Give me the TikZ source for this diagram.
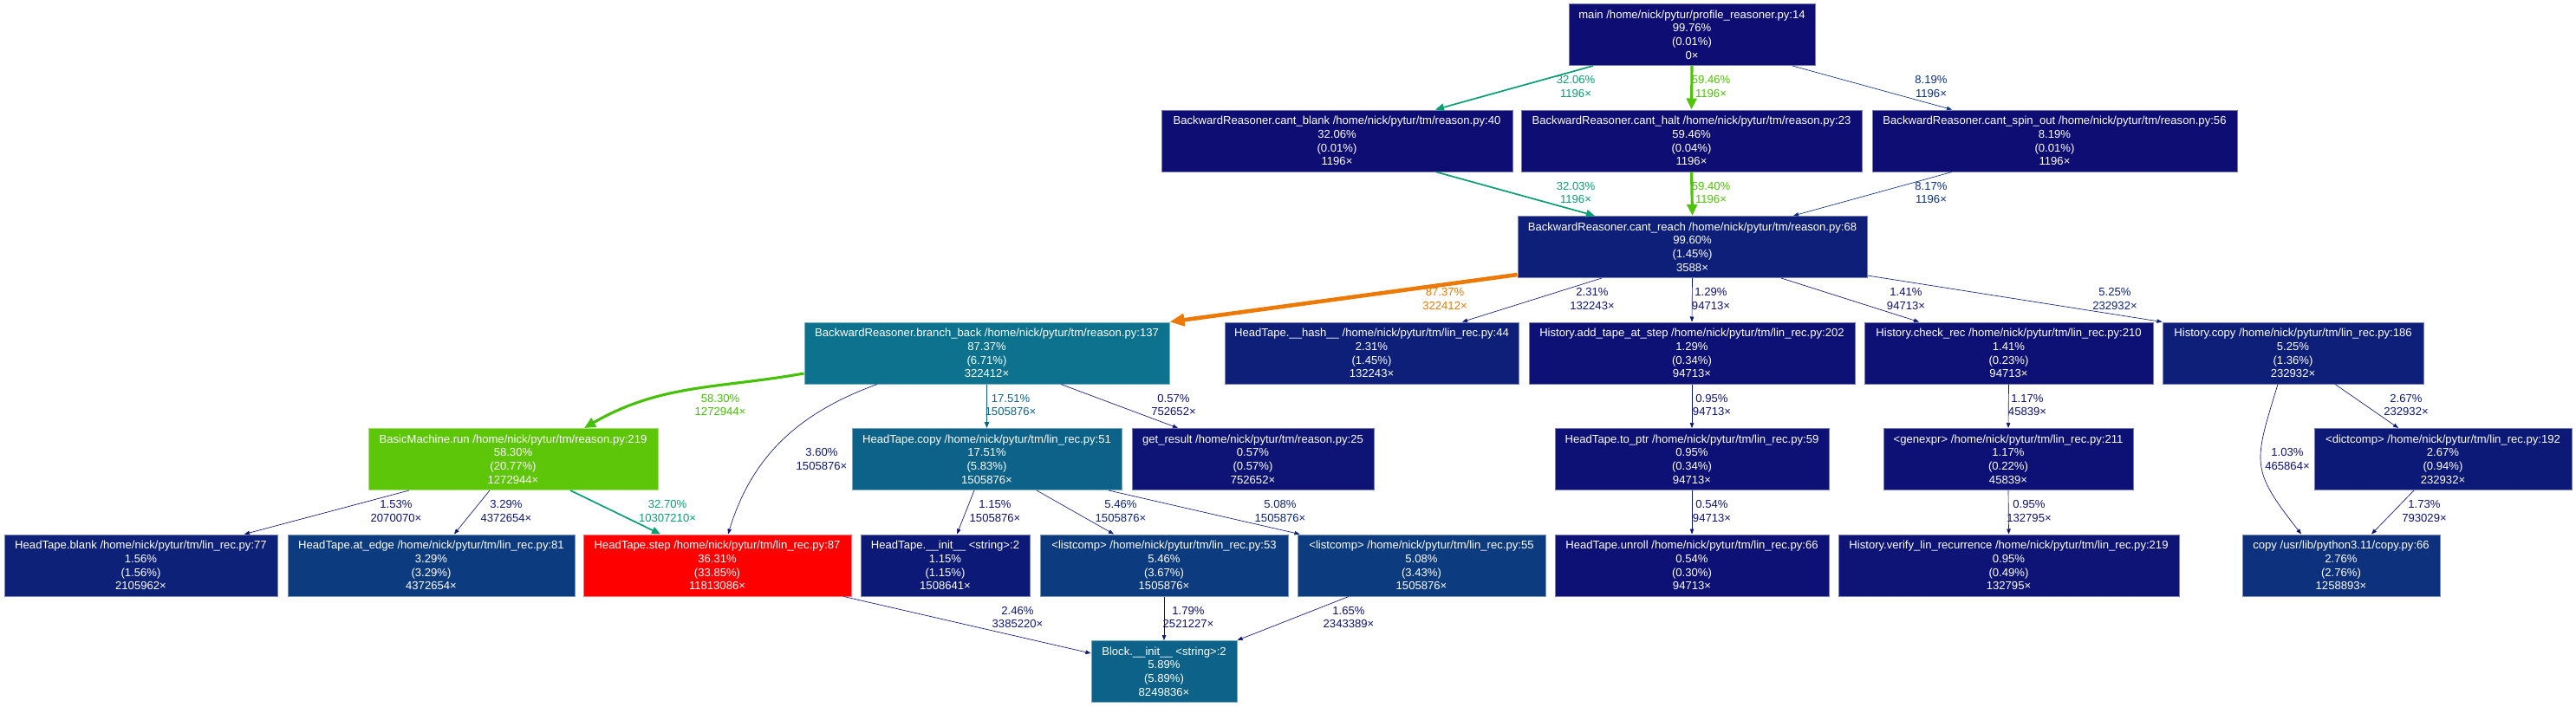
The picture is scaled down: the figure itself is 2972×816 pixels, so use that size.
\documentclass[tikz,border=0pt]{standalone}
\usepackage{fontspec}
\setmainfont{Liberation Sans}
\usetikzlibrary{arrows.meta}
% node fills, by self time
\definecolor{selfnone}{RGB}{13,13,115}
\definecolor{selflow}{RGB}{13,16,116}
\definecolor{selfsmall}{RGB}{13,20,117}
\definecolor{selfmid}{RGB}{13,25,118}
\definecolor{selfreach}{RGB}{13,31,120}
\definecolor{selfblank}{RGB}{13,33,121}
\definecolor{selfcopy}{RGB}{13,49,125}
\definecolor{selfblue}{RGB}{13,59,128}
\definecolor{selfteal}{RGB}{12,98,137}
\definecolor{selfbranch}{RGB}{12,114,141}
\definecolor{selfgreen}{RGB}{94,198,8}
\definecolor{selfred}{RGB}{255,0,0}
% call colours, by total time
\definecolor{callnavy}{RGB}{13,18,117}
\definecolor{callnavyb}{RGB}{13,25,119}
\definecolor{callblue}{RGB}{13,36,121}
\definecolor{callblueb}{RGB}{13,50,125}
\definecolor{callteal}{RGB}{12,100,137}
\definecolor{callsea}{RGB}{11,157,115}
\definecolor{calllime}{RGB}{79,195,8}
\definecolor{calllimeb}{RGB}{70,193,8}
\definecolor{callorange}{RGB}{236,121,3}
\newcommand{\graphfont}{\fontsize{13.1pt}{15.7pt}\selectfont}

\begin{document}
\begin{tikzpicture}[x=1pt,y=-1pt,
  fn/.style={rectangle,fill=#1,draw=#1!55!white,line width=1pt,text=white,font=\graphfont,
    align=center,minimum height=71pt,inner xsep=2pt,inner ysep=0pt},
  lbl/.style={font=\graphfont,align=center,inner sep=0pt},
  call/.style={-{Triangle[length=6pt,width=4.5pt]},line width=0.66pt},
  call17/.style={-{Triangle[length=7pt,width=5.5pt]},line width=0.92pt},
  call32/.style={-{Triangle[length=10pt,width=8.5pt]},line width=1.7pt},
  call59/.style={-{Triangle[length=13pt,width=11.5pt]},line width=3.1pt},
  call87/.style={-{Triangle[length=17pt,width=14pt]},line width=4.6pt}
]
  \fill[white] (0,0) rectangle (2972,816);
  \useasboundingbox (0,0) rectangle (2972,816);

  % functions
  \node[fn=selfnone,minimum width=284pt] (main) at (1952,40)
    {main /home/nick/pytur/profile\_reasoner.py:14\\99.76\%\\(0.01\%)\\0×};
  \node[fn=selfnone,minimum width=405pt] (cantblank) at (1542.5,162.5)
    {BackwardReasoner.cant\_blank /home/nick/pytur/tm/reason.py:40\\32.06\%\\(0.01\%)\\1196×};
  \node[fn=selfnone,minimum width=393pt] (canthalt) at (1951.5,162.5)
    {BackwardReasoner.cant\_halt /home/nick/pytur/tm/reason.py:23\\59.46\%\\(0.04\%)\\1196×};
  \node[fn=selfnone,minimum width=421pt] (cantspin) at (2370.5,162.5)
    {BackwardReasoner.cant\_spin\_out /home/nick/pytur/tm/reason.py:56\\8.19\%\\(0.01\%)\\1196×};
  \node[fn=selfreach,minimum width=403pt] (cantreach) at (1952.5,285)
    {BackwardReasoner.cant\_reach /home/nick/pytur/tm/reason.py:68\\99.60\%\\(1.45\%)\\3588×};

  \node[fn=selfbranch,minimum width=421pt] (branchback) at (1138.5,407.5)
    {BackwardReasoner.branch\_back /home/nick/pytur/tm/reason.py:137\\87.37\%\\(6.71\%)\\322412×};
  \node[fn=selfreach,minimum width=339pt] (hthash) at (1582.5,407.5)
    {HeadTape.\_\_hash\_\_ /home/nick/pytur/tm/lin\_rec.py:44\\2.31\%\\(1.45\%)\\132243×};
  \node[fn=selflow,minimum width=376pt] (addtape) at (1952,407.5)
    {History.add\_tape\_at\_step /home/nick/pytur/tm/lin\_rec.py:202\\1.29\%\\(0.34\%)\\94713×};
  \node[fn=selflow,minimum width=333pt] (checkrec) at (2317.5,407.5)
    {History.check\_rec /home/nick/pytur/tm/lin\_rec.py:210\\1.41\%\\(0.23\%)\\94713×};
  \node[fn=selfreach,minimum width=301pt] (histcopy) at (2645.5,407.5)
    {History.copy /home/nick/pytur/tm/lin\_rec.py:186\\5.25\%\\(1.36\%)\\232932×};

  \node[fn=selfgreen,minimum width=334pt] (bmrun) at (592,530)
    {BasicMachine.run /home/nick/pytur/tm/reason.py:219\\58.30\%\\(20.77\%)\\1272944×};
  \node[fn=selfteal,minimum width=311pt] (htcopy) at (1138.5,530)
    {HeadTape.copy /home/nick/pytur/tm/lin\_rec.py:51\\17.51\%\\(5.83\%)\\1505876×};
  \node[fn=selfsmall,minimum width=279pt] (getresult) at (1445.5,530)
    {get\_result /home/nick/pytur/tm/reason.py:25\\0.57\%\\(0.57\%)\\752652×};
  \node[fn=selflow,minimum width=316pt] (toptr) at (1952,530)
    {HeadTape.to\_ptr /home/nick/pytur/tm/lin\_rec.py:59\\0.95\%\\(0.34\%)\\94713×};
  \node[fn=selflow,minimum width=288pt] (genexpr) at (2317,530)
    {<genexpr> /home/nick/pytur/tm/lin\_rec.py:211\\1.17\%\\(0.22\%)\\45839×};
  \node[fn=selfmid,minimum width=297pt] (dictcomp) at (2818.5,530)
    {<dictcomp> /home/nick/pytur/tm/lin\_rec.py:192\\2.67\%\\(0.94\%)\\232932×};

  \node[fn=selfblank,minimum width=315pt] (htblank) at (162.5,652.5)
    {HeadTape.blank /home/nick/pytur/tm/lin\_rec.py:77\\1.56\%\\(1.56\%)\\2105962×};
  \node[fn=selfblue,minimum width=331pt] (atedge) at (497.5,652.5)
    {HeadTape.at\_edge /home/nick/pytur/tm/lin\_rec.py:81\\3.29\%\\(3.29\%)\\4372654×};
  \node[fn=selfred,minimum width=309pt] (htstep) at (827.5,652.5)
    {HeadTape.step /home/nick/pytur/tm/lin\_rec.py:87\\36.31\%\\(33.85\%)\\11813086×};
  \node[fn=selfmid,minimum width=195pt] (htinit) at (1090.5,652.5)
    {HeadTape.\_\_init\_\_ <string>:2\\1.15\%\\(1.15\%)\\1508641×};
  \node[fn=selfblue,minimum width=286pt] (listcompA) at (1343,652.5)
    {<listcomp> /home/nick/pytur/tm/lin\_rec.py:53\\5.46\%\\(3.67\%)\\1505876×};
  \node[fn=selfblue,minimum width=286pt] (listcompB) at (1640,652.5)
    {<listcomp> /home/nick/pytur/tm/lin\_rec.py:55\\5.08\%\\(3.43\%)\\1505876×};
  \node[fn=selflow,minimum width=316pt] (unroll) at (1952,652.5)
    {HeadTape.unroll /home/nick/pytur/tm/lin\_rec.py:66\\0.54\%\\(0.30\%)\\94713×};
  \node[fn=selfsmall,minimum width=393pt] (verify) at (2317.5,652.5)
    {History.verify\_lin\_recurrence /home/nick/pytur/tm/lin\_rec.py:219\\0.95\%\\(0.49\%)\\132795×};
  \node[fn=selfcopy,minimum width=228pt] (copy) at (2701,652.5)
    {copy /usr/lib/python3.11/copy.py:66\\2.76\%\\(2.76\%)\\1258893×};
  \node[fn=selfteal,minimum width=168pt] (blockinit) at (1343,775)
    {Block.\_\_init\_\_ <string>:2\\5.89\%\\(5.89\%)\\8249836×};

  % calls
  \draw[call32,callsea] ([xshift=-114]main.south) -- ([xshift=113.5]cantblank.north)
    node[lbl,at={(1818,100)}] (c1) {32.06\%\\1196×};
  \draw[call59,calllime] (main.south) -- (canthalt.north)
    node[lbl,at={(1974,100)}] (c2) {59.46\%\\1196×};
  \draw[call,callblueb] ([xshift=116]main.south) -- ([xshift=-118.5]cantspin.north)
    node[lbl,at={(2228,100)}] (c3) {8.19\%\\1196×};
  \draw[call32,callsea] ([xshift=114.5]cantblank.south) -- ([xshift=-112.5]cantreach.north)
    node[lbl,at={(1818,222.5)}] (c4) {32.03\%\\1196×};
  \draw[call59,calllime] (canthalt.south) -- (cantreach.north)
    node[lbl,at={(1974,222.5)}] (c5) {59.40\%\\1196×};
  \draw[call,callblueb] ([xshift=-118.5]cantspin.south) -- ([xshift=116.5]cantreach.north)
    node[lbl,at={(2228,222.5)}] (c6) {8.17\%\\1196×};

  \draw[call87,callorange] ([yshift=4]cantreach.south west) -- (branchback.north east)
    node[lbl,at={(1667,345)}] (c7) {87.37\%\\322412×};
  \draw[call,callnavyb] ([xshift=-104.5]cantreach.south) -- ([xshift=104.5]hthash.north)
    node[lbl,at={(1837,345)}] (c8) {2.31\%\\132243×};
  \draw[call,callnavy] (cantreach.south) -- (addtape.north)
    node[lbl,at={(1974,345)}] (c9) {1.29\%\\94713×};
  \draw[call,callnavy] ([xshift=102.5]cantreach.south) -- ([xshift=-103.5]checkrec.north)
    node[lbl,at={(2199,345)}] (c10) {1.41\%\\94713×};
  \draw[call,callblue] ([yshift=3]cantreach.south east) -- (histcopy.north west)
    node[lbl,at={(2440,345)}] (c11) {5.25\%\\232932×};

  \draw[call59,calllimeb] ([yshift=-23.5]branchback.west) to[out=190,in=30] ([xshift=82]bmrun.north)
    node[lbl,at={(831,467.5)}] (c12) {58.30\%\\1272944×};
  \draw[call,callnavyb] ([xshift=-126.5]branchback.south) to[out=200,in=73] ([xshift=12.5]htstep.north)
    node[lbl,at={(948,530)}] (c13) {3.60\%\\1505876×};
  \draw[call17,callteal] (branchback.south) -- (htcopy.north)
    node[lbl,at={(1166,467.5)}] (c14) {17.51\%\\1505876×};
  \draw[call,callnavy] ([xshift=85.5]branchback.south) -- ([xshift=-86.5]getresult.north)
    node[lbl,at={(1354,467.5)}] (c15) {0.57\%\\752652×};
  \draw[call,callnavy] (addtape.south) -- (toptr.north)
    node[lbl,at={(1975,467.5)}] (c16) {0.95\%\\94713×};
  \draw[call,callnavy] (checkrec.south) -- (genexpr.north)
    node[lbl,at={(2339,467.5)}] (c17) {1.17\%\\45839×};
  \draw[call,callnavyb] ([xshift=48.5]histcopy.south) -- ([xshift=-51.5]dictcomp.north)
    node[lbl,at={(2776,467.5)}] (c18) {2.67\%\\232932×};
  \draw[call,callnavy] ([xshift=-17.5]histcopy.south) to[out=253,in=128,looseness=1.4] ([xshift=-46]copy.north)
    node[lbl,at={(2639,530)}] (c19) {1.03\%\\465864×};

  \draw[call,callnavy] ([xshift=-120]bmrun.south) -- ([xshift=119.5]htblank.north)
    node[lbl,at={(457,590)}] (c20) {1.53\%\\2070070×};
  \draw[call,callnavyb] ([xshift=-27]bmrun.south) -- ([xshift=26.5]atedge.north)
    node[lbl,at={(584,590)}] (c21) {3.29\%\\4372654×};
  \draw[call32,callsea] ([xshift=66]bmrun.south) -- ([xshift=-65.5]htstep.north)
    node[lbl,at={(770,590)}] (c22) {32.70\%\\10307210×};
  \draw[call,callnavy] ([xshift=-14.5]htcopy.south) -- ([xshift=13.5]htinit.north)
    node[lbl,at={(1148,590)}] (c23) {1.15\%\\1505876×};
  \draw[call,callblue] ([xshift=57.5]htcopy.south) -- ([xshift=-58]listcompA.north)
    node[lbl,at={(1293,590)}] (c24) {5.46\%\\1505876×};
  \draw[call,callblue] ([xshift=140.5]htcopy.south) -- ([xshift=3]listcompB.north west)
    node[lbl,at={(1477,590)}] (c25) {5.08\%\\1505876×};
  \draw[call,callnavy] (toptr.south) -- (unroll.north)
    node[lbl,at={(1975,590)}] (c26) {0.54\%\\94713×};
  \draw[call,callnavy] (genexpr.south) -- (verify.north)
    node[lbl,at={(2341,590)}] (c27) {0.95\%\\132795×};
  \draw[call,callnavy] ([xshift=-33.5]dictcomp.south) -- ([xshift=35]copy.north)
    node[lbl,at={(2797,590)}] (c28) {1.73\%\\793029×};

  \draw[call,callnavyb] ([xshift=-9]htstep.south east) -- ([yshift=-15]blockinit.north west)
    node[lbl,at={(1174,712.5)}] (c29) {2.46\%\\3385220×};
  \draw[call,callnavy] (listcompA.south) -- (blockinit.north)
    node[lbl,at={(1371,712.5)}] (c30) {1.79\%\\2521227×};
  \draw[call,callnavy] ([xshift=-84]listcompB.south) -- (blockinit.north east)
    node[lbl,at={(1556,712.5)}] (c31) {1.65\%\\2343389×};
\end{tikzpicture}
\end{document}
